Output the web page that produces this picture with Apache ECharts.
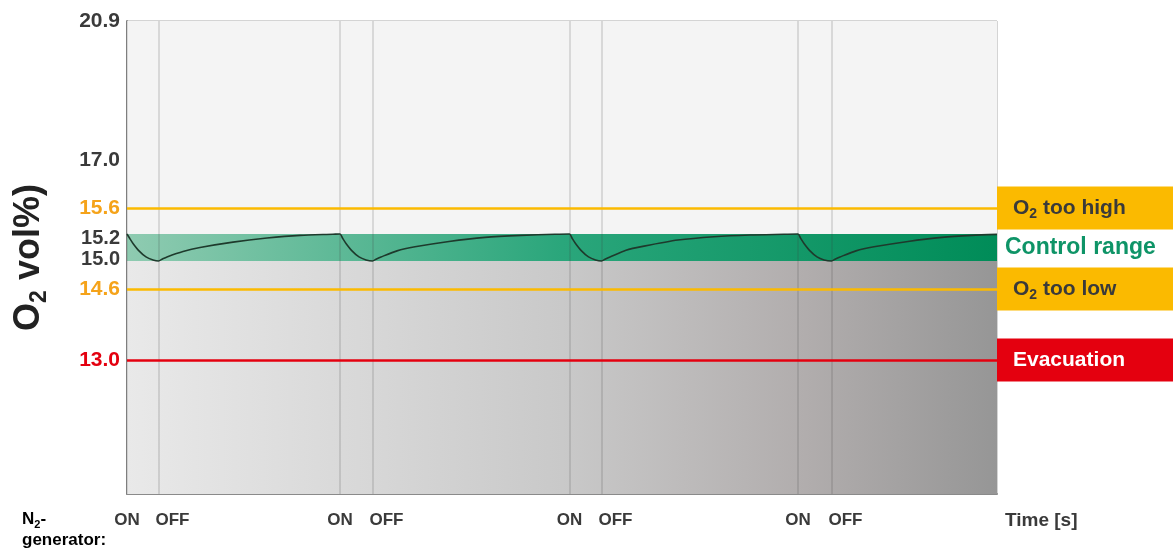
<!DOCTYPE html>
<html><head><meta charset="utf-8">
<script src="https://cdn.jsdelivr.net/npm/echarts@6.0.0/dist/echarts.min.js"></script>
<style>html,body{margin:0;padding:0;background:#fff}#c{width:1173px;height:554px}</style>
</head><body><div id="c"></div>
<script>
// ---- data ----
const onTimes = [0, 21.3, 44.25, 67.1];
const offTimes = [3.15, 24.55, 47.45, 70.45];
const timeRange = [0, 87];
const o2Range = [10, 20.9];
const yTicks = [20.9, 17.0, 15.6, 15.2, 15.0, 14.6, 13.0];
const controlRange = [15.0, 15.2];
const thresholdValues = [15.6, 14.6, 13.0];
const thresholdTexts = ['O2 too high', 'O2 too low', 'Evacuation'];
const controlText = 'Control range';
const o2Curve = [
  [0.0,15.20],[0.25,15.17],[0.6,15.13],[1.2,15.075],[1.9,15.03],[2.6,15.008],[3.15,15.00],
  [3.55,15.015],[4.0,15.03],[5.6,15.07],[7.3,15.10],[10.6,15.14],[14.0,15.17],[17.3,15.19],[20.6,15.198],[21.3,15.20],
  [21.55,15.17],[21.9,15.13],[22.5,15.075],[23.2,15.03],[23.9,15.008],[24.55,15.00],
  [24.95,15.015],[25.4,15.03],[27.0,15.075],[28.8,15.105],[32.2,15.145],[35.8,15.175],[39.4,15.19],[42.8,15.198],[44.25,15.20],
  [44.5,15.17],[44.85,15.13],[45.45,15.075],[46.15,15.03],[46.85,15.008],[47.45,15.00],
  [47.85,15.015],[48.3,15.03],[49.9,15.08],[51.7,15.11],[55.1,15.155],[58.7,15.18],[62.3,15.193],[65.7,15.198],[67.1,15.20],
  [67.35,15.17],[67.7,15.13],[68.3,15.075],[69.0,15.03],[69.7,15.008],[70.45,15.00],
  [70.85,15.015],[71.3,15.03],[72.9,15.075],[74.7,15.105],[78.1,15.145],[81.5,15.175],[84.5,15.19],[87.0,15.197]
];

// ---- schematic (non-linear) O2 scale: [O2 value, axis unit] ----
const scaleKnots = [[10,0],[13,134],[14.6,205],[15,233],[15.2,260],[15.6,286],[17,334],[20.9,473]];
function toAxis(v){
  for (let i = 1; i < scaleKnots.length; i++){
    const a = scaleKnots[i-1], b = scaleKnots[i];
    if (v <= b[0] || i === scaleKnots.length-1){
      return a[1] + (v - a[0]) / (b[0] - a[0]) * (b[1] - a[1]);
    }
  }
}
const near = (a, b) => Math.abs(a - b) < 1e-6;

const FONT = "'Liberation Sans', Arial, Helvetica, sans-serif";
const DARK = '#3a3a3a';
const ORANGE_TXT = '#F5A31A';
const ORANGE = '#FBBA00';
const RED = '#E4000F';
const GREEN_TXT = '#0E9467';

function tickStyle(v){
  if (near(v,15.6) || near(v,14.6)) return 'o';
  if (near(v,13.0)) return 'r';
  if (near(v,15.2)) return 'd2';
  if (near(v,15.0)) return 'd0';
  return 'd';
}

const chart = echarts.init(document.getElementById('c'), null, {renderer:'canvas'});
const subRich = (color, size) => ({
  a: {fontFamily: FONT, fontWeight: 'bold', fontSize: size, color: color, lineHeight: size + 4},
  s: {fontFamily: FONT, fontWeight: 'bold', fontSize: Math.round(size*0.65), color: color, lineHeight: Math.round(size*0.65), padding: [Math.round(size*0.6),0,0,0]}
});
function subText(t){
  // render "O2" / "N2" with a subscript 2
  const m = t.match(/^([A-Z])2(.*)$/);
  return m ? '{a|' + m[1] + '}{s|2}{a|' + m[2] + '}' : '{a|' + t + '}';
}

const bgGrey = new echarts.graphic.LinearGradient(0,0,1,0,[
  {offset:0, color:'#e9e9e9'},{offset:0.5,color:'#c9c9c9'},{offset:0.78,color:'#b1adad'},{offset:1,color:'#969696'}]);
const bgGreen = new echarts.graphic.LinearGradient(0,0,1,0,[
  {offset:0, color:'#8fcbb1'},{offset:0.5,color:'#2aa67b'},{offset:1,color:'#008c58'}]);

const thresholdColors = [ORANGE, ORANGE, RED];
const thresholdTextColors = [DARK, DARK, '#ffffff'];

const option = {
  animation: false,
  textStyle: {fontFamily: FONT},
  grid: {left: 127, right: 176, top: 21, bottom: 60, outerBoundsMode: 'none', containLabel: false,
         show: true, borderColor: '#a9a9a9', borderWidth: 1, backgroundColor: 'transparent'},
  xAxis: {
    type: 'value', min: timeRange[0], max: timeRange[1],
    name: '{t|Time [s]}', nameLocation: 'end', nameGap: 8,
    nameTextStyle: {rich: {t: {fontFamily: FONT, fontWeight: 'bold', fontSize: 19, color: DARK, padding: [54,0,0,0]}}},
    axisLine: {show: true, onZero: false, lineStyle: {color: '#8a8a8a', width: 2}},
    axisTick: {show: false}, splitLine: {show: false},
    axisLabel: {
      customValues: onTimes.concat(offTimes), margin: 18,
      formatter: v => onTimes.some(t => near(t, v)) ? '{on|ON}' : '{off|OFF}',
      rich: {
        on: {fontFamily: FONT, fontWeight: 'bold', fontSize: 17, color: DARK},
        off: {fontFamily: FONT, fontWeight: 'bold', fontSize: 17, color: DARK, padding: [0,0,0,28]}
      }
    }
  },
  yAxis: {
    type: 'value', min: toAxis(o2Range[0]), max: toAxis(o2Range[1]),
    name: subText('O2 vol%)'), nameLocation: 'middle', nameGap: 78,
    nameTextStyle: {rich: subRich('#222', 36)},
    axisLine: {show: true, onZero: false, lineStyle: {color: '#8a8a8a', width: 2}},
    axisTick: {show: false}, splitLine: {show: false},
    axisLabel: {
      customValues: yTicks.map(toAxis), margin: 7,
      formatter: v => {
        const t = yTicks.find(tk => Math.abs(toAxis(tk) - v) < 0.01);
        return t === undefined ? '' : '{' + tickStyle(t) + '|' + t.toFixed(1) + '}';
      },
      rich: {
        d: {fontFamily: FONT, fontWeight: 'bold', fontSize: 21, color: DARK},
        d2: {fontFamily: FONT, fontWeight: 'bold', fontSize: 20, color: DARK, padding: [9,0,0,0]},
        d0: {fontFamily: FONT, fontWeight: 'bold', fontSize: 20, color: DARK, padding: [0,0,3,0]},
        o: {fontFamily: FONT, fontWeight: 'bold', fontSize: 21, color: ORANGE_TXT},
        r: {fontFamily: FONT, fontWeight: 'bold', fontSize: 21, color: RED}
      }
    }
  },
  graphic: [{
    type: 'text', left: 22, top: 509, silent: true,
    style: {text: '{a|N}{s|2}{a|-}\n{a|generator:}', rich: subRich(DARK, 17)}
  }],
  series: [
    { // background zones
      type: 'line', data: [], z: 1, silent: true,
      markArea: {
        silent: true,
        data: [
          [{yAxis: toAxis(controlRange[1]), itemStyle: {color: '#f4f4f4'}}, {yAxis: toAxis(o2Range[1])}],
          [{yAxis: toAxis(controlRange[0]), itemStyle: {color: bgGreen},
            label: {show: true, position: 'right', distance: 8, formatter: controlText,
                    fontFamily: FONT, fontWeight: 'bold', fontSize: 23, color: GREEN_TXT}},
           {yAxis: toAxis(controlRange[1])}],
          [{yAxis: toAxis(o2Range[0]), itemStyle: {color: bgGrey}}, {yAxis: toAxis(controlRange[0])}]
        ],
        label: {show: false}
      }
    },
    { // generator ON/OFF switching lines
      type: 'line', data: [], z: 2, silent: true,
      markLine: {
        silent: true, symbol: 'none', label: {show: false},
        lineStyle: {type: 'solid', color: 'rgba(60,60,60,0.2)', width: 1.5},
        data: onTimes.concat(offTimes).map(t => ({xAxis: t}))
      }
    },
    { // thresholds
      type: 'line', data: [], z: 3, silent: true,
      markLine: {
        silent: true, symbol: 'none',
        data: thresholdValues.map((v, i) => ({
          yAxis: toAxis(v),
          lineStyle: {type: 'solid', color: thresholdColors[i], width: 2.5},
          label: {
            show: true, position: 'end', distance: 0,
            formatter: subText(thresholdTexts[i]),
            backgroundColor: thresholdColors[i],
            width: 160, padding: [9, 0, 9, 16], align: 'left',
            rich: subRich(thresholdTextColors[i], 21)
          }
        }))
      }
    },
    { // O2 concentration
      type: 'line', z: 5, name: 'O2',
      data: o2Curve.map(p => [p[0], toAxis(p[1])]),
      showSymbol: false, smooth: 0.25,
      lineStyle: {color: '#1e3a2c', width: 1.6}
    }
  ]
};
chart.setOption(option);
</script></body></html>
